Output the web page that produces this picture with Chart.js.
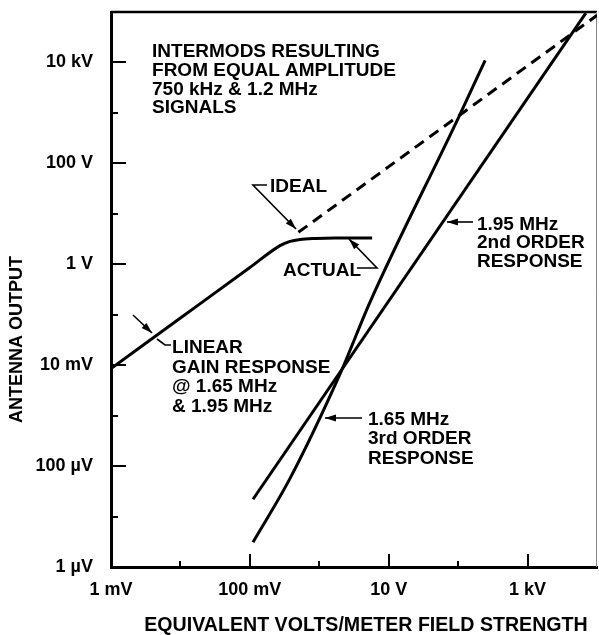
<!DOCTYPE html>
<html><head><meta charset="utf-8">
<script src="https://cdn.jsdelivr.net/npm/chart.js@4.4.1/dist/chart.umd.min.js"></script>
<style>html,body{margin:0;padding:0;background:#fff}#wrap{width:599px;height:635px;position:relative}</style>
</head><body><div id="wrap"><canvas id="c" width="599" height="635"></canvas></div>
<script>
// ---- tick values and labels ----
const xTickValues = [1e-3, 1e-1, 1e1, 1e3];
const xTickLabels = ['1 mV', '100 mV', '10 V', '1 kV'];
const xMinorTicks = [1e-2, 1, 1e2];
const yTickValues = [1e-6, 1e-4, 1e-2, 1, 1e2, 1e4];
const yTickLabels = ['1 µV', '100 µV', '10 mV', '1 V', '100 V', '10 kV'];
const yMinorTicks = [1e-5, 1e-3, 1e-1, 10, 1e3];

// ---- series (field strength V/m -> antenna output V) ----
const actualX = [0.001, 0.01, 0.1, 0.272, 0.379, 0.528, 0.87, 1.69, 5.77];
const actualY = [0.0086, 0.086, 0.86, 2.34, 2.84, 3.10, 3.25, 3.33, 3.33];
const idealX = [0.5, 10000];
const idealY = [4.3, 86000];
const order2X = [0.111, 6900];
const order2Y = [2.2e-5, 9.5e4];
const order3X = [0.111, 0.379, 2.0, 5.4, 100, 245];
const order3Y = [3.1e-6, 5.7e-5, 6.8e-3, 0.18, 782, 1.1e4];

// ---- annotation texts (anchors in log10 data units) ----
const notes = [
  {at: [-2.409, 4.109], lh: 18.8, lines: ['INTERMODS RESULTING', 'FROM EQUAL AMPLITUDE', '750 kHz & 1.2 MHz', 'SIGNALS']},
  {at: [-0.710, 1.433], lh: 19, lines: ['IDEAL']},
  {at: [-0.523, -0.232], lh: 19, lines: ['ACTUAL']},
  {at: [-2.121, -1.758], lh: 19.7, lines: ['LINEAR', 'GAIN RESPONSE', '@ 1.65 MHz', '& 1.95 MHz']},
  {at: [2.271, 0.680], lh: 18.5, lines: ['1.95 MHz', '2nd ORDER', 'RESPONSE']},
  {at: [0.702, -3.185], lh: 19.5, lines: ['1.65 MHz', '3rd ORDER', 'RESPONSE']}
];
const leaders = [
  {pts: [[-0.753, 1.572], [-0.955, 1.572], [-0.335, 0.700]], arrow: true},
  {pts: [[0.543, -0.073], [0.831, -0.073], [0.428, 0.501]], arrow: true},
  {pts: [[-2.683, -1.005], [-2.409, -1.362]], arrow: true},
  {pts: [[-2.337, -1.481], [-2.222, -1.600], [-2.136, -1.600]], arrow: false},
  {pts: [[2.214, 0.838], [1.839, 0.838]], arrow: true},
  {pts: [[0.615, -3.047], [0.082, -3.047]], arrow: true}
];
const xTitle = 'EQUIVALENT VOLTS/METER FIELD STRENGTH';
const yTitle = 'ANTENNA OUTPUT';

const FONT = '"Liberation Sans", Arial, Helvetica, sans-serif';
const pts = (xs, ys) => xs.map((x, i) => ({x: x, y: ys[i]}));

const decor = {
  id: 'decor',
  beforeDatasetsDraw(chart) {
    const {ctx, chartArea: a, scales: {x, y}} = chart;
    ctx.save();
    ctx.strokeStyle = '#000';
    // top border
    ctx.lineWidth = 2.5;
    ctx.beginPath(); ctx.moveTo(a.left, a.top); ctx.lineTo(a.right, a.top); ctx.stroke();
    // right border (faint)
    ctx.strokeStyle = '#888'; ctx.lineWidth = 1;
    ctx.beginPath(); ctx.moveTo(a.right - 0.5, a.top); ctx.lineTo(a.right - 0.5, a.bottom); ctx.stroke();
    ctx.strokeStyle = '#000'; ctx.lineWidth = 2;
    // y ticks (inward)
    yTickValues.forEach(v => { const p = Math.round(y.getPixelForValue(v)); ctx.beginPath(); ctx.moveTo(a.left, p); ctx.lineTo(a.left + 15, p); ctx.stroke(); });
    yMinorTicks.forEach(v => { const p = Math.round(y.getPixelForValue(v)); ctx.beginPath(); ctx.moveTo(a.left, p); ctx.lineTo(a.left + 7, p); ctx.stroke(); });
    xTickValues.forEach(v => { const p = Math.round(x.getPixelForValue(v)); ctx.beginPath(); ctx.moveTo(p, a.bottom); ctx.lineTo(p, a.bottom - 13); ctx.stroke(); });
    xMinorTicks.forEach(v => { const p = Math.round(x.getPixelForValue(v)); ctx.beginPath(); ctx.moveTo(p, a.bottom); ctx.lineTo(p, a.bottom - 6); ctx.stroke(); });
    // axis titles
    ctx.fillStyle = '#000';
    ctx.font = 'bold 18px ' + FONT;
    ctx.textAlign = 'center'; ctx.textBaseline = 'middle';
    ctx.save();
    ctx.translate(17, (a.top + a.bottom) / 2 + 50);
    ctx.rotate(-Math.PI / 2);
    ctx.fillText(yTitle, 0, 0);
    ctx.restore();
    ctx.font = 'bold 19.6px ' + FONT;
    ctx.fillText(xTitle, (a.left + a.right) / 2 + 12, 626);
    ctx.restore();
  },
  afterDatasetsDraw(chart) {
    const {ctx, scales: {x, y}} = chart;
    const P = (l) => [x.getPixelForValue(Math.pow(10, l[0])), y.getPixelForValue(Math.pow(10, l[1]))];
    ctx.save();
    ctx.fillStyle = '#000'; ctx.strokeStyle = '#000';
    ctx.font = 'bold 19px ' + FONT;
    ctx.textAlign = 'left'; ctx.textBaseline = 'alphabetic';
    notes.forEach(n => {
      const [px, py] = P(n.at);
      n.lines.forEach((t, i) => ctx.fillText(t, px, py + i * n.lh));
    });
    ctx.lineWidth = 1.6;
    leaders.forEach(l => {
      const ps = l.pts.map(P);
      ctx.beginPath();
      ps.forEach((p, i) => i ? ctx.lineTo(p[0], p[1]) : ctx.moveTo(p[0], p[1]));
      ctx.stroke();
      if (l.arrow) {
        const e = ps[ps.length - 1], s = ps[ps.length - 2];
        const ang = Math.atan2(e[1] - s[1], e[0] - s[0]);
        const L = 11, W = 3.5;
        ctx.beginPath();
        ctx.moveTo(e[0], e[1]);
        ctx.lineTo(e[0] - L * Math.cos(ang) + W * Math.sin(ang), e[1] - L * Math.sin(ang) - W * Math.cos(ang));
        ctx.lineTo(e[0] - L * Math.cos(ang) - W * Math.sin(ang), e[1] - L * Math.sin(ang) + W * Math.cos(ang));
        ctx.closePath(); ctx.fill();
      }
    });
    ctx.restore();
  }
};

const lineDs = (data, extra) => Object.assign({data: data, borderColor: '#000', borderWidth: 3, pointRadius: 0, fill: false, tension: 0}, extra || {});

new Chart(document.getElementById('c').getContext('2d'), {
  type: 'line',
  data: {datasets: [
    lineDs(pts(actualX, actualY), {cubicInterpolationMode: 'monotone'}),
    lineDs(pts(idealX, idealY), {borderDash: [11, 7]}),
    lineDs(pts(order2X, order2Y)),
    lineDs(pts(order3X, order3Y), {cubicInterpolationMode: 'monotone'})
  ]},
  options: {
    responsive: false, animation: false, devicePixelRatio: 1,
    layout: {padding: {top: 12, right: 2, left: 0, bottom: 0}},
    plugins: {legend: {display: false}, tooltip: {enabled: false}, title: {display: false}},
    scales: {
      x: {
        type: 'logarithmic', min: 1e-3, max: 1e4, position: 'bottom',
        grid: {display: false, drawTicks: false},
        border: {display: true, color: '#000', width: 3},
        afterBuildTicks: s => { s.ticks = xTickValues.map(v => ({value: v})); },
        afterFit: s => { s.height = 68; s.paddingLeft = 0; s.paddingRight = 0; },
        ticks: {autoSkip: false, maxRotation: 0, minRotation: 0, padding: 12, color: '#000',
          font: {family: FONT, size: 18, weight: 'bold'},
          callback: (v, i) => xTickLabels[i]}
      },
      y: {
        type: 'logarithmic', min: 1e-6, max: 1e5, position: 'left',
        grid: {display: false, drawTicks: false},
        border: {display: true, color: '#000', width: 3},
        afterBuildTicks: s => { s.ticks = yTickValues.map(v => ({value: v})); },
        afterFit: s => { s.width = 111; s.paddingTop = 0; s.paddingBottom = 0; },
        ticks: {autoSkip: false, padding: 18, color: '#000',
          font: {family: FONT, size: 18, weight: 'bold'},
          callback: (v, i) => yTickLabels[i]}
      }
    }
  },
  plugins: [decor]
});
</script></body></html>
